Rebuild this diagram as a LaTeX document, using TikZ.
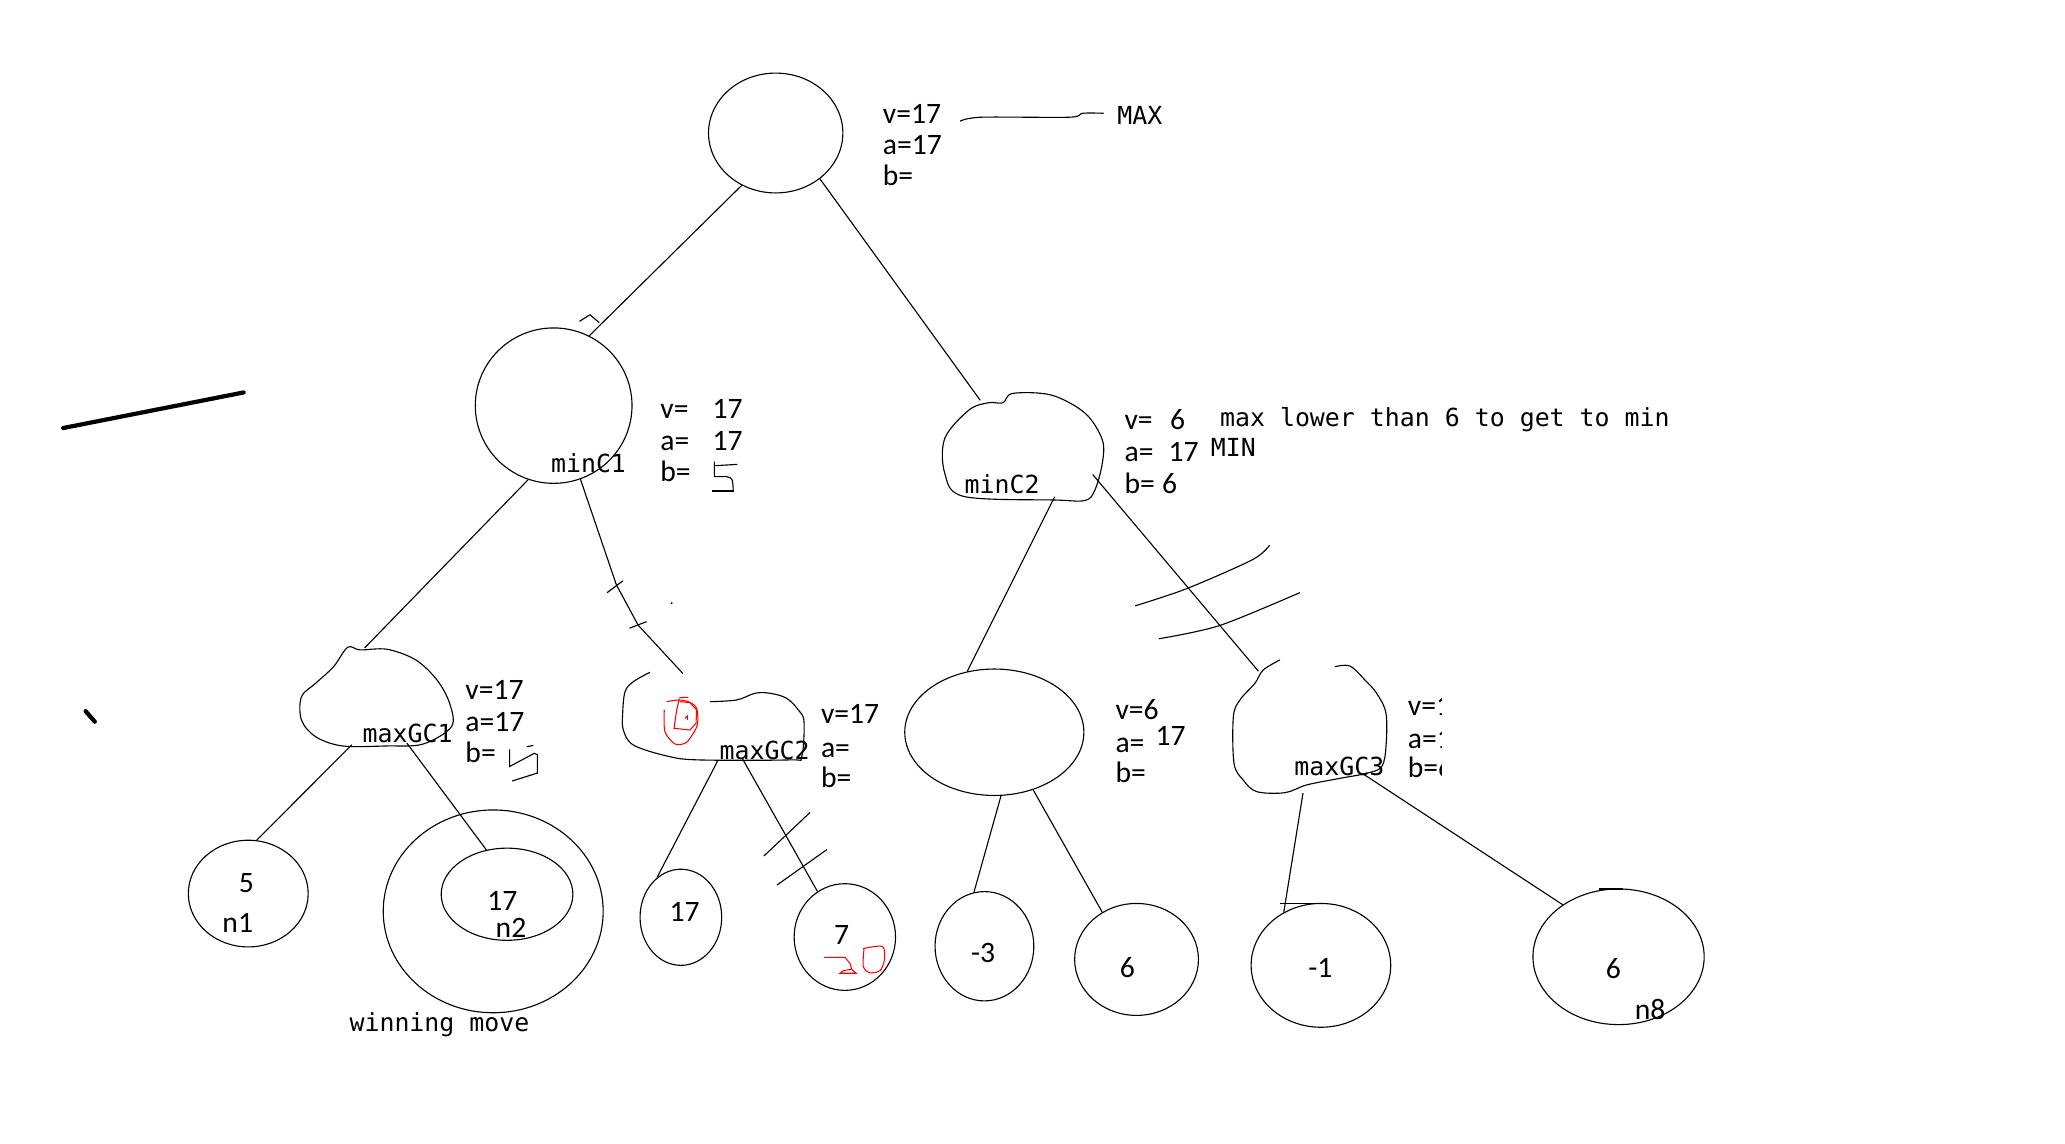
\documentclass[tikz,border=0pt]{standalone}
\usepackage{fontspec}
\setmainfont{Carlito}
\newfontfamily\monofont{DejaVu Sans Mono}
\usetikzlibrary{shapes.geometric}
\begin{document}
\begin{tikzpicture}[x=1pt,y=-1pt,line width=0.85pt,
  nd/.style={ellipse,draw,inner sep=0pt},
  hid/.style={ellipse,draw=none,inner sep=0pt},
  val/.style={anchor=base west,inner sep=0pt,font=\fontsize{22.5}{26}\selectfont},
  lab/.style={anchor=base west,inner sep=0pt,font=\monofont\fontsize{18.9}{22}\selectfont},
  redink/.style={draw=red,line width=0.8pt},
  thick stroke/.style={line width=3.2pt,line cap=round}]
\useasboundingbox (0,0) rectangle (1568,868);

% ---------- nodes ----------
\node[nd,minimum width=102pt,minimum height=91pt] (root) at (589,101) {};
\node[nd,minimum width=119pt,minimum height=118pt] (minC1) at (420.4,308) {};
\node[hid,minimum width=122pt,minimum height=82pt] (minC2) at (777,339) {};
\node[hid,minimum width=115pt,minimum height=75pt] (maxGC1) at (285.5,529.5) {};
\node[hid,minimum width=138pt,minimum height=67pt] (maxGC2) at (541,543.5) {};
\node[nd,minimum width=136pt,minimum height=96pt] (mid) at (755,556) {};
\node[hid,minimum width=116pt,minimum height=105pt] (maxGC3) at (994,549.5) {};

\node[nd,minimum width=91pt,minimum height=81pt] (n1) at (188.5,678.5) {};
\node[nd,minimum width=100pt,minimum height=70pt] (n2) at (385,679) {};
\node[nd,minimum width=167pt,minimum height=154pt] (win) at (374.5,692) {};
\node[nd,minimum width=62pt,minimum height=73pt] (l17) at (517,696.5) {};
\node[nd,minimum width=77pt,minimum height=81pt] (l7) at (641.5,711.5) {};
\node[nd,minimum width=75pt,minimum height=83pt] (lm3) at (747.5,718.5) {};
\node[nd,minimum width=94pt,minimum height=85pt] (l6) at (863,728.5) {};
\node[nd,minimum width=106pt,minimum height=94pt] (lm1) at (1003,733) {};
\node[nd,minimum width=130pt,minimum height=103pt] (n8) at (1229,726.5) {};

% hand-drawn outlines of the irregular nodes
\draw plot[smooth cycle,tension=0.55] coordinates {(769,298.7) (798.4,300) (824,313.8) (837,334) (837,351.8) (831.4,372) (824,380) (802,379.7) (732,377) (717.4,359.4) (717.4,332.8) (735.8,311.3) (750.6,305.8) (761.6,305.8)};
\draw plot[smooth cycle,tension=0.55] coordinates {(264,491.5) (273.4,493.5) (293.9,493) (315.6,501) (331.8,516.3) (341.4,534) (342.8,551.8) (321.1,565) (293.9,566.4) (260,566.4) (239.7,559.4) (228.9,546.7) (228.9,529) (239.7,518.8) (253.3,506.2)};
\draw plot[smooth,tension=0.55] coordinates {(493.5,510.5) (480.9,517.6) (474.6,525.2) (472.8,541.6) (473.3,554.3) (480.9,565.7) (506.2,574) (530.2,577) (599.8,577) (608.7,574.6) (610.5,548) (606.2,539.1) (597.3,530.2) (584.7,526.4) (573.3,526.4) (559.4,531.5) (539.1,532.8)};
\draw plot[smooth,tension=0.55] coordinates {(971.9,501.1) (959.2,508.7) (952.9,518.8) (941.5,531.5) (936.5,544.2) (937,579.6) (944,592.3) (954.2,601.1) (975.7,601.9) (992.2,596) (1017.5,591) (1037.7,587.2) (1049.1,582.2) (1052.4,567) (1052.4,541.6) (1045.3,526.4) (1036.4,516.3) (1025,505.7) (1013.7,506.2)};

% ---------- edges ----------
\draw (root.237) -- (minC1.63);
\draw (root.314) -- (minC2.133);
\draw (minC1.251) -- (maxGC1.103);
\draw (minC1.290) -- (468,444) -- (484.5,474.6) -- (maxGC2.125);
\draw (minC2.302) -- (mid.114);
\draw (minC2.338) -- (maxGC3.134);
\draw (maxGC1.243) -- (n1.81);
\draw (maxGC1.304) -- (n2.115);
\draw (maxGC2.277) -- (l17.121);
\draw (maxGC2.305) -- (l7.121);
\draw (mid.276) -- (lm3.101);
\draw (mid.304) -- (l6.126);
\draw (maxGC3.265) -- (lm1.125);
\draw (maxGC3.317) -- (n8.137);

% small hook on minC1
\draw (440,244) -- (448,239) -- (455,245);

% tick marks
\draw (461,450) -- (473,441);
\draw (478,477) -- (491,472);
\fill (510,458) circle (0.8pt);
\draw (580,650) -- (615,617);
\draw (590,672) -- (628,645);
\draw plot[smooth] coordinates {(862,460) (901,447) (951,425) (964,414)};
\draw plot[smooth] coordinates {(880,485) (926,475) (987,450)};

% stray strokes on the left
\draw[thick stroke] (48,325) -- (185,298);
\draw[thick stroke] (65,540) -- (72,548);

% ---------- root text ----------
\node[val] (rv) at (670,93.6) {v=17};
\node[val] (ra) at (670,117) {a=17};
\node[val] (rb) at (670,140.5) {b=};
\node[lab] (max) at (848,94.2) {MAX};
\draw plot[smooth] coordinates {(729,92) (745,89) (812,89) (822,86) (838,86)};

% ---------- minC1 ----------
\node[lab] (lminC1) at (418,358.9) {minC1};
\node[val] (c1v) at (501,317.6) {v=};
\node[val] (c1v2) at (540.6,317.6) {17};
\node[val] (c1a) at (501,341.7) {a=};
\node[val] (c1a2) at (540.6,341.7) {17};
\node[val] (c1b) at (501,365.7) {b=};
\draw (542.9,353.6) -- (559.8,352.6);
\draw (542.4,350.6) -- (542.4,361.9) -- (551.8,361.9) .. controls (556.3,363) .. (556.8,373.3);
\draw (540.4,372.8) -- (557.3,372.8);

% ---------- minC2 ----------
\node[lab] (lminC2) at (732,374.6) {minC2};
\node[val] (c2v) at (853.5,326.5) {v=};
\node[val] (c2v2) at (888,326.5) {6};
\node[val] (c2a) at (853.5,350.6) {a=};
\node[val] (c2a2) at (887,350.6) {17};
\node[val] (c2b) at (853.5,374.6) {b=};
\node[val] (c2b2) at (882,374.6) {6};
\node[lab] (note) at (926,324) {max lower than 6 to get to min};
\node[lab] (minlab) at (919,346.7) {MIN};

% ---------- maxGC1 ----------
\node[lab] (lmaxGC1) at (275,563.9) {maxGC1};
\node[val] (g1v) at (353,531.5) {v=17};
\node[val] (g1a) at (353,555.8) {a=17};
\node[val] (g1b) at (353,578.6) {b=};
\draw (387,569) -- (387,582) -- (405.7,572) -- (408,573) -- (408,587) -- (389,593);
\draw (400,567) -- (405,566);

% ---------- maxGC2 ----------
\node[lab] (lmaxGC2) at (546,576.6) {maxGC2};
\node[val] (g2v) at (623,549.7) {v=17};
\node[val] (g2a) at (623,574.8) {a=};
\node[val] (g2b) at (623,597.6) {b=};
\draw[redink] plot[smooth] coordinates {(506.2,532.8) (515.1,531.5) (522.6,532.8) (529,537.8) (529.5,550.5) (523.9,560.6) (520.1,564.4) (512.5,564.9) (504.9,555.6) (504.4,539.1)};
\draw[redink] (515.8,529.7) -- (522.6,529.5);
\draw[redink] (515.8,530.5) -- (513.8,539.1) -- (511.8,553) -- (523.9,554.3) -- (528.5,549.2) -- (529,539.1) -- (523.9,533.5) -- (516.3,532.8);
\draw[redink] (520.1,545.4) -- (521.9,543.7) -- (521.9,546.7);

% ---------- middle node ----------
\node[val] (mv) at (846.6,546.7) {v=6};
\node[val] (ma) at (846.6,571) {a=};
\node[val] (ma2) at (877,565.7) {17};
\node[val] (mb) at (846.6,594.5) {b=};

% ---------- maxGC3 ----------
\node[lab] (lmaxGC3) at (982.5,588.5) {maxGC3};
\begin{scope}
\clip (1060,500) rectangle (1094.3,620);
\node[val] (g3v) at (1068.6,543) {v=17};
\node[val] (g3a) at (1068.6,568) {a=17};
\node[val] (g3b) at (1068.6,590.7) {b=6};
\end{scope}

% ---------- leaves ----------
\node[val] (t5) at (181,678) {5};
\node[val] (tn1) at (168.5,708.4) {n1};
\node[val] (t17a) at (369.6,691) {17};
\node[val] (tn2) at (376,711.5) {n2};
\node[lab] (twin) at (265,783.4) {winning move};
\node[val] (t17b) at (508,700) {17};
\node[val] (t7) at (633,717.5) {7};
\node[val] (tm3) at (737,731) {-3};
\node[val] (t6) at (850,742) {6};
\node[val] (tm1) at (993,742) {-1};
\node[val] (t6b) at (1219,743) {6};
\node[val] (tn8) at (1241,774) {n8};
\draw[redink] (625.7,726.9) -- (641.6,726.9) -- (645.4,731.5) -- (646.7,736) -- (640.3,737) -- (637.8,739) -- (650,739) -- (646.7,736);
\draw[redink] plot[smooth cycle] coordinates {(656.8,720) (670.2,718.8) (671.5,728.9) (668.2,737) (660.1,738.6) (655.5,734) (656,721.3)};
\draw (972,686) -- (1002,686);
\draw (1214,675) -- (1232,675);
\end{tikzpicture}
\end{document}
